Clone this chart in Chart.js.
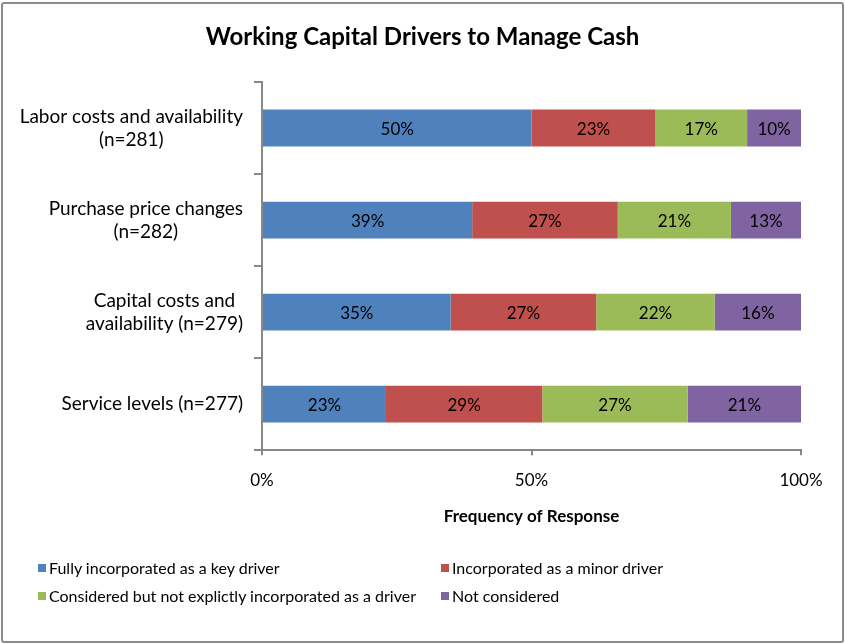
<!DOCTYPE html>
<html>
<head>
<meta charset="utf-8">
<script src="https://cdn.jsdelivr.net/npm/chart.js@4"></script>
<style>
  body { margin: 0; background: #fff; font-family: Lato, sans-serif; }
  #wrap { position: relative; width: 845px; height: 644px; }
  #frame { position: absolute; left: 1px; top: 2px; width: 839px; height: 637px; border: 2px solid #8c8c8c; border-radius: 3px; }
  #myChart { position: absolute; left: 0; top: 0; }
  #title { position: absolute; left: 0; top: 21px; width: 845px; text-align: center; font-weight: bold; font-size: 24px; line-height: 30px; color: #000; }
  .legend-item { position: absolute; font-size: 16px; color: #000; white-space: nowrap; line-height: 18px; }
  .legend-item i { display: inline-block; width: 8px; height: 8px; margin-right: 3px; vertical-align: 2px; }
</style>
</head>
<body>
<div id="wrap">
  <div id="frame"></div>
  <canvas id="myChart" width="845" height="644"></canvas>
  <div id="title">Working Capital Drivers to Manage Cash</div>
  <div id="legend"></div>
</div>
<script>
const categories = [
  ["Labor costs and availability", "(n=281)"],
  ["Purchase price changes", "(n=282)"],
  ["Capital costs and", "availability (n=279)"],
  ["Service levels (n=277)"]
];
const seriesNames = [
  "Fully incorporated as a key driver",
  "Incorporated as a minor driver",
  "Considered but not explictly incorporated as a driver",
  "Not considered"
];
const fullyKey = [50, 39, 35, 23];
const minorDriver = [23, 27, 27, 29];
const consideredNot = [17, 21, 22, 27];
const notConsidered = [10, 13, 16, 21];
const xTicks = [0, 50, 100];
const colors = ["#4F81BD", "#C0504D", "#9BBB59", "#8064A2"];

document.addEventListener("DOMContentLoaded", function () {
  const ctx = document.getElementById("myChart").getContext("2d");
  const seriesValues = [fullyKey, minorDriver, consideredNot, notConsidered];

  // category labels: block right-aligned, lines centred inside the block
  const yLabels = {
    id: "yLabels",
    afterDraw(chart) {
      const c = chart.ctx;
      const y = chart.scales.y;
      c.save();
      c.font = "19px Lato";
      c.fillStyle = "#000";
      c.textAlign = "center";
      c.textBaseline = "middle";
      const right = chart.chartArea.left - 19;
      categories.forEach((lines, i) => {
        const w = Math.max(...lines.map((l) => c.measureText(l).width));
        const cx = right - w / 2;
        const yc = y.getPixelForValue(i);
        lines.forEach((l, j) => {
          c.fillText(l, cx, yc + (j - (lines.length - 1) / 2) * 23);
        });
      });
      c.restore();
    },
  };

  // value labels in the middle of each segment
  const barLabels = {
    id: "barLabels",
    afterDatasetsDraw(chart) {
      const c = chart.ctx;
      c.save();
      c.font = "17px Lato";
      c.fillStyle = "#000";
      c.textAlign = "center";
      c.textBaseline = "middle";
      chart.data.datasets.forEach((ds, di) => {
        chart.getDatasetMeta(di).data.forEach((bar, i) => {
          const p = bar.getProps(["x", "y", "base"], true);
          c.fillText(ds.data[i] + "%", (p.x + p.base) / 2, p.y + 1);
        });
      });
      c.restore();
    },
  };

  new Chart(ctx, {
    type: "bar",
    data: {
      labels: categories,
      datasets: seriesNames.map((name, k) => ({
        label: name,
        data: seriesValues[k],
        backgroundColor: colors[k],
        borderWidth: 0,
        barPercentage: 0.4,
        categoryPercentage: 1,
      })),
    },
    options: {
      indexAxis: "y",
      responsive: false,
      animation: false,
      layout: { padding: { left: 0, right: 44, top: 82, bottom: 117 } },
      plugins: {
        legend: { display: false },
        tooltip: { enabled: false },
        title: { display: false },
      },
      scales: {
        x: {
          stacked: true,
          min: 0,
          max: 100,
          afterBuildTicks: (scale) => {
            scale.ticks = xTicks.map((v) => ({ value: v }));
          },
          ticks: {
            color: "#000",
            font: { family: "Lato", size: 17 },
            padding: 15,
            callback: (v) => v + "%",
          },
          grid: { drawOnChartArea: false, drawTicks: true, tickLength: 5, color: "#888", lineWidth: 2 },
          border: { display: true, color: "#888", width: 2 },
          title: {
            display: true,
            text: "Frequency of Response",
            color: "#000",
            font: { family: "Lato", size: 17, weight: "bold" },
            padding: { top: 1, bottom: 0 },
          },
        },
        y: {
          stacked: true,
          ticks: { display: false },
          afterFit: (scale) => {
            scale.width = 262;
          },
          grid: { offset: true, drawOnChartArea: false, drawTicks: true, tickLength: 8, color: "#888", lineWidth: 2 },
          border: { display: true, color: "#888", width: 2 },
        },
      },
    },
    plugins: [yLabels, barLabels],
  });

  // two-column legend
  const legend = document.getElementById("legend");
  const pos = [
    [38, 559],
    [441, 559],
    [38, 587],
    [441, 587],
  ];
  seriesNames.forEach((name, k) => {
    const d = document.createElement("div");
    d.className = "legend-item";
    d.style.left = pos[k][0] + "px";
    d.style.top = pos[k][1] + "px";
    d.innerHTML = `<i style="background:${colors[k]}"></i>${name}`;
    legend.appendChild(d);
  });
});
</script>
</body>
</html>
